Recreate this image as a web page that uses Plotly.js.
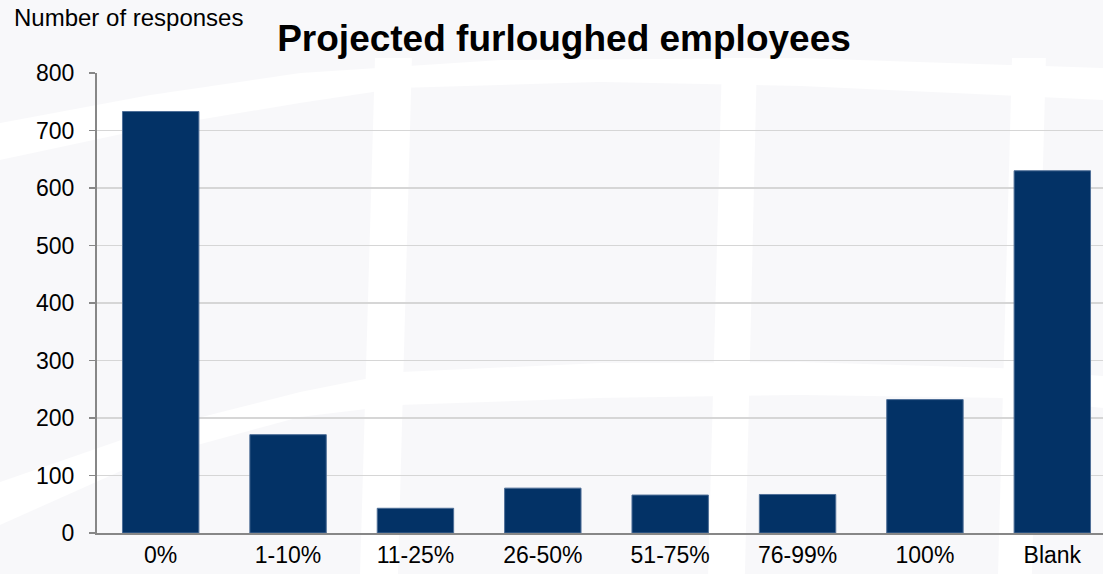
<!DOCTYPE html>
<html>
<head>
<meta charset="utf-8">
<script src="https://cdn.plot.ly/plotly-3.0.1.min.js"></script>
<style>
html,body{margin:0;padding:0;background:#f8f8fa;overflow:hidden;}
#chart{width:1103px;height:574px;}
</style>
</head>
<body>
<div id="chart"></div>
<script>
const categories = ["0%", "1-10%", "11-25%", "26-50%", "51-75%", "76-99%", "100%", "Blank"];
const responses = [733, 171, 43, 78, 66, 67, 232, 630];
const yTicks = [0, 100, 200, 300, 400, 500, 600, 700, 800];

const W = 1103, H = 574, L = 97, T = 73, B = 41;
const pw = W - L, ph = H - T - B;
function px(x){ return (x - L) / pw; }
function py(y){ return (H - B - y) / ph; }
function path(pts){
  return pts.map((p,i)=> (i===0?'M':'L') + px(p[0]).toFixed(4) + ',' + py(p[1]).toFixed(4)).join(' ') + ' Z';
}

const bandStyle = {type:'path', xref:'paper', yref:'paper', fillcolor:'rgba(255,255,255,0.9)', line:{width:0}, layer:'below'};
const shapes = [
  // upper arc band
  Object.assign({}, bandStyle, {path: path([[0,123],[150,95],[300,73],[500,60],[800,58],[1103,68],[1103,100],[800,86],[600,82],[400,88],[300,103],[150,128],[0,160]])}),
  // lower arc band
  Object.assign({}, bandStyle, {path: path([[0,482],[150,430],[300,392],[400,372],[600,363],[800,362],[1000,368],[1103,376],[1103,408],[1000,398],[800,395],[600,398],[400,405],[300,417],[150,458],[0,525]])}),
  // vertical bands
  Object.assign({}, bandStyle, {path: path([[375,58],[412,58],[398,574],[360,574]])}),
  Object.assign({}, bandStyle, {path: path([[722,58],[757,58],[745,574],[708,574]])}),
  Object.assign({}, bandStyle, {path: path([[1012,58],[1046,58],[1032,574],[998,574]])})
];

const data = [{
  type: 'bar',
  x: categories,
  y: responses,
  marker: {color: '#033266', line: {color: '#4f6f98', width: 1}},
  hoverinfo: 'x+y'
}];

const layout = {
  width: W, height: H,
  margin: {l: L, r: 0, t: T, b: B, pad: 0},
  paper_bgcolor: '#f8f8fa',
  plot_bgcolor: 'rgba(0,0,0,0)',
  font: {family: 'Liberation Sans, Arial, sans-serif', color: '#000000', size: 23},
  bargap: 0.4,
  showlegend: false,
  title: {
    text: '<b>Projected furloughed employees</b>',
    font: {size: 37, color: '#000000', family: 'Liberation Sans, Arial, sans-serif'},
    x: 564 / W, xref: 'container', xanchor: 'center',
    y: 1 - 38 / H, yref: 'container', yanchor: 'middle'
  },
  xaxis: {
    type: 'category',
    range: [-0.5, -0.5 + 8 * pw / 1019],
    showline: true, linecolor: '#878787', linewidth: 2,
    ticks: '', showgrid: false, zeroline: false,
    tickfont: {size: 23},
    ticklabelstandoff: 0,
    fixedrange: true
  },
  yaxis: {
    range: [0, 800],
    tickvals: yTicks,
    ticktext: yTicks.map(String),
    showline: true, linecolor: '#878787', linewidth: 2,
    ticks: 'outside', ticklen: 6, tickcolor: '#878787', tickwidth: 1.5,
    showgrid: true, gridcolor: '#d6d6d6', gridwidth: 1.5,
    zeroline: false,
    tickfont: {size: 23},
    ticklabelstandoff: 10,
    fixedrange: true
  },
  shapes: shapes,
  annotations: [{
    text: 'Number of responses',
    xref: 'paper', yref: 'paper',
    x: px(12), y: py(18),
    xanchor: 'left', yanchor: 'middle',
    showarrow: false,
    font: {size: 24, color: '#000000'}
  }]
};

Plotly.newPlot('chart', data, layout, {displayModeBar: false, staticPlot: true});
</script>
</body>
</html>
